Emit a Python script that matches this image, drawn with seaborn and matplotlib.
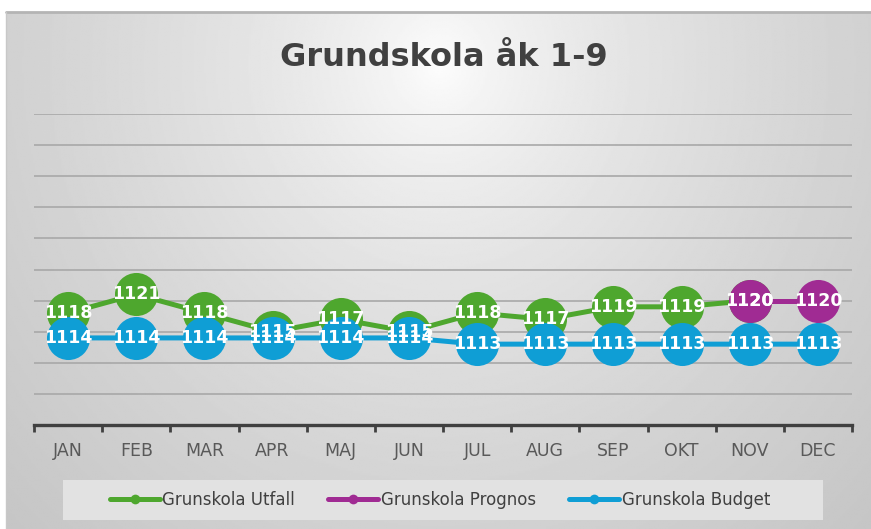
import numpy as np
import seaborn as sns
import matplotlib.pyplot as plt
from matplotlib.lines import Line2D
from matplotlib.patches import Rectangle

months = ['JAN', 'FEB', 'MAR', 'APR', 'MAJ', 'JUN', 'JUL', 'AUG', 'SEP', 'OKT', 'NOV', 'DEC']
utfall = [1118, 1121, 1118, 1115, 1117, 1115, 1118, 1117, 1119, 1119, 1120]
prognos_months = ['NOV', 'DEC']
prognos = [1120, 1120]
budget = [1114, 1114, 1114, 1114, 1114, 1114, 1113, 1113, 1113, 1113, 1113, 1113]

series_names = ['Grunskola Utfall', 'Grunskola Prognos', 'Grunskola Budget']
colors = ['#4ea72e', '#a02b93', '#0f9ed5']
title = 'Grundskola åk 1-9'

sns.set_style('white')

W, H = 871, 529
fig = plt.figure(figsize=(W / 100, H / 100), dpi=100, facecolor='white')

# radial grey background of the chart box
bg = fig.add_axes([6 / W, 0, 1 - 6 / W, 1 - 12 / H], zorder=-10)
yy, xx = np.mgrid[0:1:300j, 0:1:500j]
r = np.sqrt(((xx - 0.5) / 0.5) ** 2 + ((yy - 0.1) / 0.9) ** 2)
shade = np.clip(1.0 - 0.18 * r ** 0.65, 0, 1)
bg.imshow(shade, cmap='gray', vmin=0, vmax=1, aspect='auto', extent=(0, 1, 1, 0))
bg.set_axis_off()
fig.add_artist(Line2D([6 / W, 1], [1 - 12 / H, 1 - 12 / H], transform=fig.transFigure,
                      color='#b4b4b4', lw=2, zorder=-5))
fig.add_artist(Line2D([6 / W, 6 / W], [0, 1 - 12 / H], transform=fig.transFigure,
                      color='#c8c8c8', lw=1, zorder=-5))

ax = fig.add_axes([34 / W, 1 - 425 / H, 818 / W, 311 / H])
ax.patch.set_alpha(0)

sns.lineplot(x=months[:len(utfall)], y=utfall, ax=ax, color=colors[0], marker='o',
             markersize=31, markeredgewidth=0, linewidth=3.6, legend=False, zorder=3)
sns.lineplot(x=prognos_months, y=prognos, ax=ax, color=colors[1], marker='o',
             markersize=31, markeredgewidth=0, linewidth=3.6, legend=False, zorder=4)
sns.lineplot(x=months, y=budget, ax=ax, color=colors[2], marker='o',
             markersize=31, markeredgewidth=0, linewidth=3.6, legend=False, zorder=5)

for xs, ys in [(months[:len(utfall)], utfall), (prognos_months, prognos), (months, budget)]:
    for m, v in zip(xs, ys):
        ax.text(m, v, str(v), ha='center', va='center', color='white',
                fontsize=12.5, fontweight='bold', zorder=10)

ax.set_xlim(-0.5, 11.5)
ax.set_ylim(1100, 1150)
ax.set_yticks(np.arange(1100, 1151, 5))
ax.yaxis.grid(True, color='#a8a8a8', lw=1.2)
ax.set_axisbelow(True)
ax.tick_params(axis='y', left=False, labelleft=False)
ax.set_xticks(range(len(months)))
ax.set_xticklabels(months)
ax.set_xticks(np.arange(-0.5, 12, 1), minor=True)
ax.tick_params(axis='x', which='major', length=0, pad=12, labelsize=12.5, labelcolor='#595959')
ax.tick_params(axis='x', which='minor', bottom=True, direction='out', length=5, width=2,
               color='#404040')
for s in ['left', 'right', 'top']:
    ax.spines[s].set_visible(False)
ax.spines['bottom'].set_color('#404040')
ax.spines['bottom'].set_linewidth(2.4)
ax.set_xlabel('')
ax.set_ylabel('')

fig.text(444 / W, 1 - 58 / H, title, ha='center', va='center', fontsize=23,
         fontweight='bold', color='#404040')

# legend box
fig.add_artist(Rectangle((63 / W, 1 - 520 / H), 760 / W, 40 / H, transform=fig.transFigure,
                         facecolor='#e2e2e2', edgecolor='none', zorder=1))
handles = [Line2D([], [], color=c, lw=3.6, marker='o', markersize=7, markeredgewidth=0)
           for c in colors]
fig.legend(handles, series_names, loc='center', bbox_to_anchor=(440 / W, 1 - 500 / H),
           ncol=3, frameon=False, handlelength=3.0, handletextpad=0.15, columnspacing=2.0,
           prop={'size': 12}, labelcolor='#404040')

fig.savefig('out.png', dpi=100)
